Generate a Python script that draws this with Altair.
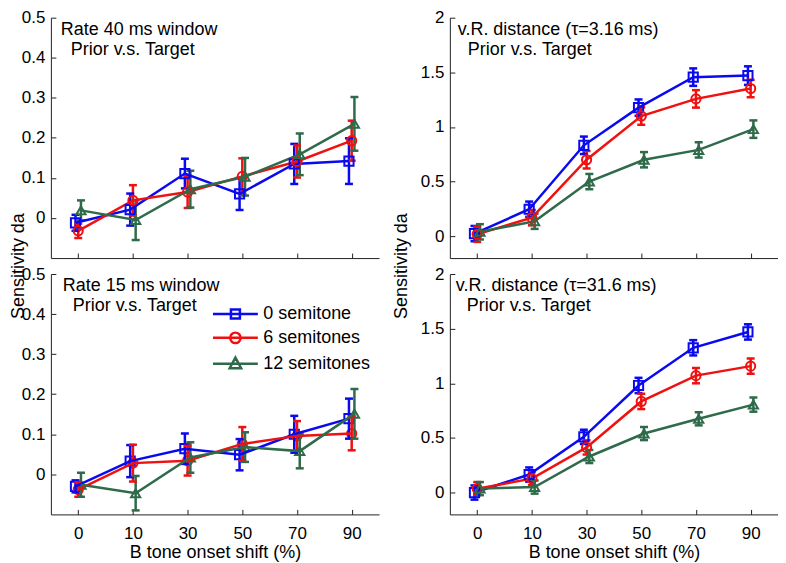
import altair as alt
import pandas as pd

# ---------------- data ----------------
x_labels = ["0", "10", "30", "50", "70", "90"]
x_index = [0, 1, 2, 3, 4, 5]
series_names = ["0 semitone", "6 semitones", "12 semitones"]
series_colors = ["#0a0af0", "#f01010", "#2f6a4a"]
series_shapes = ["square", "circle", "triangle-up"]
series_shift = [-0.05, 0.0, 0.05]

# Rate 40 ms window
r40_vals = [
    [-0.012, 0.021, 0.111, 0.060, 0.135, 0.142],
    [-0.032, 0.044, 0.065, 0.104, 0.141, 0.193],
    [0.019, -0.005, 0.072, 0.103, 0.159, 0.235],
]
r40_errs = [
    [0.020, 0.040, 0.037, 0.040, 0.050, 0.057],
    [0.018, 0.038, 0.040, 0.045, 0.040, 0.050],
    [0.025, 0.050, 0.046, 0.047, 0.052, 0.067],
]
# Rate 15 ms window
r15_vals = [
    [-0.030, 0.033, 0.064, 0.049, 0.100, 0.139],
    [-0.038, 0.028, 0.034, 0.076, 0.096, 0.102],
    [-0.026, -0.047, 0.042, 0.068, 0.058, 0.151],
]
r15_errs = [
    [0.015, 0.040, 0.038, 0.039, 0.046, 0.050],
    [0.018, 0.046, 0.037, 0.042, 0.037, 0.042],
    [0.030, 0.043, 0.038, 0.037, 0.043, 0.062],
]
# v.R. distance tau = 3.16 ms
vr3_vals = [
    [0.024, 0.247, 0.832, 1.177, 1.456, 1.470],
    [0.018, 0.170, 0.700, 1.100, 1.257, 1.352],
    [0.040, 0.137, 0.500, 0.700, 0.790, 0.980],
]
vr3_errs = [
    [0.070, 0.070, 0.080, 0.075, 0.080, 0.085],
    [0.070, 0.070, 0.080, 0.080, 0.080, 0.080],
    [0.070, 0.070, 0.070, 0.070, 0.070, 0.080],
]
# v.R. distance tau = 31.6 ms
vr31_vals = [
    [0.000, 0.165, 0.510, 0.980, 1.325, 1.470],
    [0.036, 0.127, 0.413, 0.834, 1.070, 1.157],
    [0.036, 0.050, 0.330, 0.540, 0.675, 0.805],
]
vr31_errs = [
    [0.065, 0.065, 0.065, 0.070, 0.070, 0.070],
    [0.060, 0.060, 0.065, 0.070, 0.070, 0.070],
    [0.060, 0.060, 0.060, 0.060, 0.060, 0.065],
]

rate_ticks = [0, 0.1, 0.2, 0.3, 0.4, 0.5]
rate_domain = [-0.1, 0.5]
vr_ticks = [0, 0.5, 1, 1.5, 2]
vr_domain = [-0.2, 2]

# ---------------- layout / style ----------------
W = 329
H = 241
FONT = "Liberation Sans"
AX = "#222222"

label_expr = "[" + ",".join("'%s'" % l for l in x_labels) + "][datum.value]"

# legend glyphs: a line with an open marker; each marker outline is traced twice in
# opposite directions so that any fill cancels out and only the outline shows
legend_paths = [
    "M-4.5,0H4.5M-0.9,-0.9H0.9V0.9H-0.9ZM-0.9,-0.9V0.9H0.9V-0.9Z",
    "M-4.5,0H4.5M-1.05,0A1.05,1.05,0,1,1,1.05,0A1.05,1.05,0,1,1,-1.05,0Z"
    "M-1.05,0A1.05,1.05,0,1,0,1.05,0A1.05,1.05,0,1,0,-1.05,0Z",
    "M-4.5,0H4.5M0,-1.25L1.15,0.9H-1.15ZM0,-1.25L-1.15,0.9H1.15Z",
]
shape_expr = "datum.value === '%s' ? '%s' : datum.value === '%s' ? '%s' : '%s'" % (
    series_names[0], legend_paths[0], series_names[1], legend_paths[1], legend_paths[2])


def build_frames(vals, errs):
    pts, caps = [], []
    for s, name in enumerate(series_names):
        for i in x_index:
            v, e = vals[s][i], errs[s][i]
            xi = i + series_shift[s]
            pts.append({"series": name, "marker": name, "xi": xi, "y": v, "lo": v - e, "hi": v + e})
            caps.append({"series": name, "xi": xi, "yc": v - e})
            caps.append({"series": name, "xi": xi, "yc": v + e})
    return pd.DataFrame(pts), pd.DataFrame(caps)


def panel(vals, errs, ydomain, yticks, line1, line2, l1x, l2x, bottom, legend, ytitle_x, ytitle=False):
    pts, caps = build_frames(vals, errs)
    xs = alt.Scale(domain=[-0.5, 5.5], nice=False, zero=False)
    ys = alt.Scale(domain=ydomain, nice=False, zero=False)
    cscale = alt.Scale(domain=series_names, range=series_colors)

    main_x_axis = alt.Axis(
        orient="bottom", values=x_index, labelExpr=label_expr, ticks=False, grid=False,
        domain=True, domainColor=AX, domainWidth=1, labels=bottom,
        labelFont=FONT, labelFontSize=17, labelColor="black", labelPadding=11,
        title="B tone onset shift (%)" if bottom else None,
        titleFont=FONT, titleFontSize=18, titleFontWeight="normal", titleColor="black",
        titlePadding=2,
    )
    main_y_axis = alt.Axis(
        orient="left", values=yticks, format="~g", ticks=False, grid=False,
        domain=True, domainColor=AX, domainWidth=1,
        labelFont=FONT, labelFontSize=17, labelColor="black", labelPadding=6, title=None,
    )
    tick_x_axis = alt.Axis(
        orient="top", offset=-H, values=x_index, labels=False, domain=False, grid=False,
        ticks=True, tickSize=5, tickColor=AX, tickWidth=1, title=None,
    )
    tick_y_axis = alt.Axis(
        orient="right", offset=-W, values=yticks, labels=False, domain=False, grid=False,
        ticks=True, tickSize=5, tickColor=AX, tickWidth=1, title=None,
    )

    color_plain = alt.Color("series:N", scale=cscale, legend=None)
    color_pts = alt.Color("series:N", scale=cscale, legend=legend)

    rules = alt.Chart(pts).mark_rule(strokeWidth=2.5, opacity=1).encode(
        x=alt.X("xi:Q", scale=xs, axis=main_x_axis),
        y=alt.Y("lo:Q", scale=ys, axis=main_y_axis),
        y2="hi:Q",
        color=color_plain,
    )
    capm = alt.Chart(caps).mark_tick(orient="horizontal", size=8, thickness=2.5, opacity=1).encode(
        x=alt.X("xi:Q", scale=xs, axis=tick_x_axis),
        y=alt.Y("yc:Q", scale=ys, axis=tick_y_axis),
        color=color_plain,
    )
    line = alt.Chart(pts).mark_line(strokeWidth=2.5, opacity=1).encode(
        x=alt.X("xi:Q", scale=xs, axis=None),
        y=alt.Y("y:Q", scale=ys, axis=None),
        color=color_plain,
    )
    points = alt.Chart(pts).mark_point(filled=False, strokeWidth=2, size=85, opacity=1).encode(
        x=alt.X("xi:Q", scale=xs, axis=None),
        y=alt.Y("y:Q", scale=ys, axis=None),
        color=color_pts,
        shape=alt.Shape("marker:N", scale=alt.Scale(domain=series_names, range=series_shapes), legend=None),
    )
    t1 = alt.Chart(pd.DataFrame({"t": [line1]})).mark_text(
        align="left", baseline="alphabetic", font=FONT, fontSize=18, color="black"
    ).encode(x=alt.value(l1x), y=alt.value(17), text="t:N")
    t2 = alt.Chart(pd.DataFrame({"t": [line2]})).mark_text(
        align="left", baseline="alphabetic", font=FONT, fontSize=18, color="black"
    ).encode(x=alt.value(l2x), y=alt.value(37), text="t:N")
    if legend is not None:
        layers = [points, rules, capm, line, t1, t2]
    else:
        layers = [rules, capm, line, points, t1, t2]
    if ytitle:
        yt = alt.Chart(pd.DataFrame({"t": ["Sensitivity da"]})).mark_text(
            align="center", baseline="middle", angle=270, font=FONT, fontSize=18, color="black"
        ).encode(x=alt.value(ytitle_x), y=alt.value(H + 8), text="t:N")
        layers.append(yt)
    return alt.layer(*layers).resolve_axis(x="independent", y="independent").properties(width=W, height=H)


legend = alt.Legend(
    title=None, orient="none", legendX=176, legendY=31, padding=0,
    symbolSize=100, symbolStrokeWidth=2.5, symbolFillColor="transparent",
    symbolType={"expr": shape_expr},
    labelFont=FONT, labelFontSize=18, labelColor="black", labelOffset=19, rowPadding=3,
)

tl = panel(r40_vals, r40_errs, rate_domain, rate_ticks, "Rate 40 ms window", "Prior v.s. Target",
           10, 20, False, None, -32, ytitle=True)
bl = panel(r15_vals, r15_errs, rate_domain, rate_ticks, "Rate 15 ms window", "Prior v.s. Target",
           12, 22, True, legend, -32)
tr = panel(vr3_vals, vr3_errs, vr_domain, vr_ticks, "v.R. distance (\u03c4=3.16 ms)", "Prior v.s. Target",
           8, 18, False, None, -48, ytitle=True)
br = panel(vr31_vals, vr31_errs, vr_domain, vr_ticks, "v.R. distance (\u03c4=31.6 ms)", "Prior v.s. Target",
           6, 17, True, None, -48)

chart = (
    alt.concat(tl, tr, bl, br, columns=2, spacing={"row": 16, "column": 71}, bounds="flush")
    .resolve_scale(color="independent")
    .properties(padding={"left": 2, "top": 0, "right": 0, "bottom": 0})
    .configure_view(stroke=None)
)

chart.save("out.html", embed_options={"renderer": "svg", "actions": False})
